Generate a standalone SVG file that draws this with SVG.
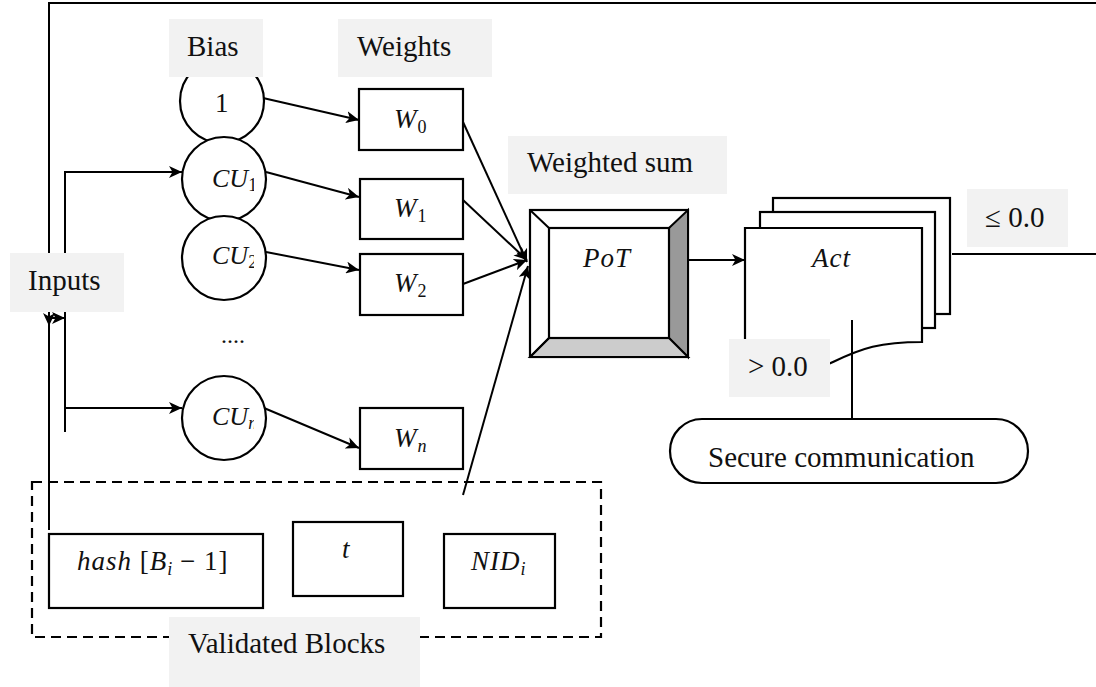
<svg xmlns="http://www.w3.org/2000/svg" width="1096" height="687" viewBox="0 0 1096 687">
<defs>
<marker id="ah" markerUnits="userSpaceOnUse" markerWidth="14" markerHeight="12" refX="13" refY="6" orient="auto"><path d="M0,0 L13,6 L0,12 L3.5,6 Z" fill="#000"/></marker>
<clipPath id="cuclip"><rect x="0" y="0" width="254" height="687"/></clipPath>
<style>
.ln{fill:none;stroke:#000;stroke-width:2}
.bx{fill:#fff;stroke:#000;stroke-width:2.2}
.lbg{fill:#f2f2f2;stroke:none}
.lt{font-family:"Liberation Serif","Times New Roman",serif;font-size:29px;fill:#111}
.m{font-family:"Liberation Serif","Times New Roman",serif;font-size:27px;fill:#111;letter-spacing:1px}
.cu{font-family:"Liberation Serif","Times New Roman",serif;font-size:26px;fill:#111}
.i{font-style:italic}
.sb{font-size:18px;letter-spacing:0}
</style>
</defs>
<rect width="1096" height="687" fill="#fff"/>

<g id="connectors">
<path class="ln" d="M952,254 H1097 M1097,3 H49 V530"/>
<path class="ln" d="M49,305 V326" marker-end="url(#ah)"/>
<path class="ln" d="M49,318 H65" marker-end="url(#ah)"/>
<path class="ln" d="M65,171 V432"/>
<path class="ln" d="M65,172 H182" marker-end="url(#ah)"/>
<path class="ln" d="M65,408 H182" marker-end="url(#ah)"/>
<path class="ln" d="M263,98 L359,120" marker-end="url(#ah)"/>
<path class="ln" d="M266,172 L359,197" marker-end="url(#ah)"/>
<path class="ln" d="M266,252 L359,270" marker-end="url(#ah)"/>
<path class="ln" d="M264,408 L359,448" marker-end="url(#ah)"/>
<path class="ln" d="M463,122 L527,262" marker-end="url(#ah)"/>
<path class="ln" d="M463,200 L527,260" marker-end="url(#ah)"/>
<path class="ln" d="M463,284 L527,260" marker-end="url(#ah)"/>
<path class="ln" d="M463,495 L528,266" marker-end="url(#ah)"/>
<path class="ln" d="M688,260 H745" marker-end="url(#ah)"/>
</g>

<g id="bias1">
<circle class="bx" cx="222" cy="101" r="42"/>
<text class="cu" x="215" y="112" style="font-size:27px">1</text>
</g>
<g id="cu1">
<circle class="bx" cx="224" cy="179" r="42"/>
<text class="cu" x="212" y="187" clip-path="url(#cuclip)"><tspan class="i">CU</tspan><tspan class="sb" dy="4">1</tspan></text>
</g>
<g id="cu2">
<circle class="bx" cx="224" cy="258" r="42"/>
<text class="cu" x="212" y="264" clip-path="url(#cuclip)"><tspan class="i">CU</tspan><tspan class="sb" dy="4">2</tspan></text>
</g>
<g id="dots"><text class="lt" x="221" y="343" style="font-size:24px">....</text></g>
<g id="cun">
<circle class="bx" cx="224" cy="418" r="42"/>
<text class="cu" x="212" y="425" clip-path="url(#cuclip)"><tspan class="i">CU</tspan><tspan class="sb i" dy="4">n</tspan></text>
</g>

<g id="label-bias"><rect class="lbg" x="169" y="19" width="94" height="58"/><text class="lt" x="187" y="56">Bias</text></g>
<g id="label-weights"><rect class="lbg" x="338" y="19" width="154" height="58"/><text class="lt" x="357" y="56">Weights</text></g>
<g id="label-inputs"><rect class="lbg" x="10" y="253" width="114" height="59"/><text class="lt" x="28" y="290">Inputs</text></g>

<g id="w0"><rect class="bx" x="359" y="89" width="104" height="61"/><text class="m" x="394" y="128"><tspan class="i">W</tspan><tspan class="sb" dy="5">0</tspan></text></g>
<g id="w1"><rect class="bx" x="360" y="179" width="103" height="60"/><text class="m" x="394" y="217"><tspan class="i">W</tspan><tspan class="sb" dy="5">1</tspan></text></g>
<g id="w2"><rect class="bx" x="360" y="254" width="103" height="61"/><text class="m" x="394" y="292"><tspan class="i">W</tspan><tspan class="sb" dy="5">2</tspan></text></g>
<g id="wn"><rect class="bx" x="360" y="408" width="103" height="61"/><text class="m" x="394" y="447"><tspan class="i">W</tspan><tspan class="sb i" dy="5">n</tspan></text></g>

<g id="label-wsum"><rect class="lbg" x="508" y="136" width="219" height="58"/><text class="lt" x="527" y="172">Weighted sum</text></g>

<g id="pot">
<rect x="530" y="210" width="158" height="147" fill="#fff" stroke="#000" stroke-width="2.2"/>
<path d="M669,228 L688,210 L688,357 L669,338 Z" fill="#999" stroke="#000" stroke-width="2"/>
<path d="M549,338 L669,338 L688,357 L530,357 Z" fill="#ccc" stroke="#000" stroke-width="2"/>
<path d="M530,210 L549,228 M549,338 L530,357" class="ln"/>
<rect x="549" y="228" width="120" height="110" fill="none" stroke="#000" stroke-width="2.2"/>
<text class="m i" x="583" y="267">PoT</text>
</g>

<g id="act">
<rect class="bx" x="773" y="198" width="177" height="116"/>
<rect class="bx" x="760" y="212" width="175" height="116"/>
<path class="bx" d="M745,228 H922 V342 C880,342 862,348 833,362 C800,378 772,376 745,366 Z"/>
<text class="m i" x="812" y="267">Act</text>
</g>

<g id="act-link"><path class="ln" d="M852,320 V419"/></g>

<g id="label-gt"><rect class="lbg" x="729" y="339" width="101" height="58"/><text class="lt" x="748" y="376">&gt; 0.0</text></g>
<g id="label-le"><rect class="lbg" x="967" y="189" width="101" height="58"/><text class="lt" x="985" y="227">≤ 0.0</text></g>

<g id="secure">
<rect class="bx" x="670" y="419" width="358" height="64" rx="32" ry="32"/>
<text class="lt" x="708" y="467">Secure communication</text>
</g>

<g id="validated">
<rect x="32" y="482" width="569" height="155" fill="none" stroke="#000" stroke-width="2.2" stroke-dasharray="10,6"/>
</g>
<g id="hash"><rect class="bx" x="49" y="534" width="214" height="74"/><text class="m" x="77" y="570"><tspan class="i">hash</tspan> [<tspan class="i">B</tspan><tspan class="sb i" dy="5">i</tspan><tspan dy="-5"> − 1]</tspan></text></g>
<g id="tbox"><rect class="bx" x="293" y="522" width="110" height="74"/><text class="m i" x="342" y="558">t</text></g>
<g id="nid"><rect class="bx" x="444" y="534" width="111" height="74"/><text class="m" x="471" y="570"><tspan class="i">NID</tspan><tspan class="sb i" dy="5">i</tspan></text></g>
<g id="label-validated"><rect class="lbg" x="169" y="617" width="251" height="70"/><text class="lt" x="188" y="653">Validated Blocks</text></g>
</svg>
